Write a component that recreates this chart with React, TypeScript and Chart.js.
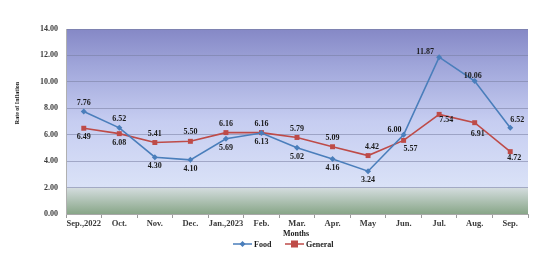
import React, { useEffect, useRef } from 'react';
import { Chart, registerables } from 'chart.js';

Chart.register(...registerables);

const categories = ['Sep.,2022', 'Oct.', 'Nov.', 'Dec.', 'Jan.,2023', 'Feb.', 'Mar.', 'Apr.', 'May', 'Jun.', 'Jul.', 'Aug.', 'Sep.'];
const foodValues = [7.76, 6.52, 4.30, 4.10, 5.69, 6.13, 5.02, 4.16, 3.24, 6.00, 11.87, 10.06, 6.52];
const generalValues = [6.49, 6.08, 5.41, 5.50, 6.16, 6.16, 5.79, 5.09, 4.42, 5.57, 7.54, 6.91, 4.72];
const seriesNames = ['Food', 'General'];
const yMin = 0;
const yMax = 14;
const yStep = 2;

const FOOD_COLOR = '#4a7ebb';
const GENERAL_COLOR = '#be4b48';
const SERIF = '"Liberation Serif", "Times New Roman", serif';

// small label nudges [dx, dy] keyed "dataset:index"
const labelNudge: Record<string, [number, number]> = {
  '0:10': [-14, 4],
  '1:10': [7, -3],
  '0:9': [-9, 4],
  '1:9': [7, 0],
  '0:11': [-2, 4],
  '1:11': [3, 2],
  '0:12': [7, 1],
  '1:12': [4, -3],
  '1:8': [4, 0],
};

const bgPlugin = {
  id: 'bgGradient',
  beforeDraw(chart: any) {
    const { ctx, chartArea: a } = chart;
    const g = ctx.createLinearGradient(0, a.top, 0, a.bottom);
    g.addColorStop(0, '#8588c6');
    g.addColorStop(0.2, '#a0a6da');
    g.addColorStop(0.5, '#c6cdf1');
    g.addColorStop(0.855, '#dae2f7');
    g.addColorStop(0.862, '#d2dbdc');
    g.addColorStop(1, '#88a688');
    ctx.save();
    ctx.fillStyle = g;
    ctx.fillRect(a.left, a.top, a.right - a.left, a.bottom - a.top);
    ctx.restore();
  },
};

const labelsPlugin = {
  id: 'customLabels',
  afterDatasetsDraw(chart: any) {
    const { ctx } = chart;
    const values = [foodValues, generalValues];
    ctx.save();
    ctx.font = `bold 8px ${SERIF}`;
    ctx.fillStyle = '#1a1a1a';
    ctx.textAlign = 'center';
    ctx.textBaseline = 'middle';
    for (let i = 0; i < categories.length; i++) {
      for (let d = 0; d < 2; d++) {
        const v = values[d][i];
        const other = values[1 - d][i];
        const above = d === 0 ? v > other : v >= other;
        const pt = chart.getDatasetMeta(d).data[i];
        const n = labelNudge[`${d}:${i}`] || [0, 0];
        const dy = above ? -9 : 9;
        ctx.fillText(v.toFixed(2), pt.x + n[0], pt.y + dy + n[1]);
      }
    }
    ctx.restore();
  },
};

function drawMarker(ctx: CanvasRenderingContext2D, kind: number, x: number, y: number) {
  if (kind === 0) {
    ctx.fillStyle = FOOD_COLOR;
    ctx.beginPath();
    ctx.moveTo(x, y - 3);
    ctx.lineTo(x + 3, y);
    ctx.lineTo(x, y + 3);
    ctx.lineTo(x - 3, y);
    ctx.closePath();
    ctx.fill();
  } else {
    ctx.fillStyle = GENERAL_COLOR;
    ctx.fillRect(x - 3.5, y - 3.5, 7, 7);
  }
}

const textPlugin = {
  id: 'extraText',
  afterDraw(chart: any) {
    const { ctx } = chart;
    ctx.save();
    ctx.fillStyle = '#1a1a1a';
    // y axis title
    ctx.font = `bold 6px ${SERIF}`;
    ctx.textAlign = 'center';
    ctx.textBaseline = 'middle';
    ctx.save();
    ctx.translate(17, 103);
    ctx.rotate(-Math.PI / 2);
    ctx.fillText('Rate of Inflation', 0, 0);
    ctx.restore();
    // x axis title
    ctx.font = `bold 8px ${SERIF}`;
    ctx.fillText('Months', 296, 234);
    // legend
    const colors = [FOOD_COLOR, GENERAL_COLOR];
    const lx = [233, 285];
    const ly = 244;
    for (let k = 0; k < 2; k++) {
      ctx.strokeStyle = colors[k];
      ctx.lineWidth = 1.5;
      ctx.beginPath();
      ctx.moveTo(lx[k], ly);
      ctx.lineTo(lx[k] + 19, ly);
      ctx.stroke();
      drawMarker(ctx, k, lx[k] + 9.5, ly);
      ctx.fillStyle = '#1a1a1a';
      ctx.textAlign = 'left';
      ctx.fillText(seriesNames[k], lx[k] + 21, ly + 0.5);
    }
    ctx.restore();
  },
};

export default function App() {
  const ref = useRef<HTMLCanvasElement | null>(null);
  useEffect(() => {
    if (!ref.current) return;
    const chart = new Chart(ref.current, {
      type: 'line',
      data: {
        labels: categories,
        datasets: [
          {
            label: seriesNames[0],
            data: foodValues,
            borderColor: FOOD_COLOR,
            backgroundColor: FOOD_COLOR,
            borderWidth: 1.6,
            pointStyle: 'rectRot',
            pointRadius: 3,
            pointBorderWidth: 0,
            tension: 0,
          },
          {
            label: seriesNames[1],
            data: generalValues,
            borderColor: GENERAL_COLOR,
            backgroundColor: GENERAL_COLOR,
            borderWidth: 1.6,
            pointStyle: 'rect',
            pointRadius: 3.5,
            pointBorderWidth: 0,
            tension: 0,
          },
        ],
      },
      options: {
        responsive: false,
        animation: false,
        layout: { padding: { left: 0, right: 5, top: 29, bottom: 0 } },
        plugins: {
          legend: { display: false },
          tooltip: { enabled: false },
          title: { display: false },
        },
        scales: {
          x: {
            type: 'category',
            offset: true,
            grid: {
              offset: true,
              drawOnChartArea: false,
              drawTicks: true,
              tickLength: 4,
              color: '#9a9a9a',
            },
            border: { color: '#a8a8a8' },
            ticks: {
              font: { family: SERIF, size: 8.5, weight: 'bold' },
              color: '#3a3a3a',
              padding: 1,
              maxRotation: 0,
              autoSkip: false,
            },
            afterFit(scale: any) {
              scale.height = 47;
            },
          },
          y: {
            min: yMin,
            max: yMax,
            ticks: {
              stepSize: yStep,
              font: { family: SERIF, size: 8, weight: 'bold' },
              color: '#3a3a3a',
              padding: 8,
              callback: (v: any) => Number(v).toFixed(2),
            },
            grid: {
              drawTicks: false,
              color: 'rgba(120,125,160,0.55)',
              lineWidth: 1,
            },
            border: { color: '#b0b0b0' },
            afterFit(scale: any) {
              scale.width = 66;
            },
          },
        },
      },
      plugins: [bgPlugin, labelsPlugin, textPlugin],
    });
    return () => chart.destroy();
  }, []);
  return (
    <div style={{ position: 'absolute', left: 0, top: 0, width: 533, height: 261, background: '#ffffff' }}>
      <canvas ref={ref} width={533} height={261} />
    </div>
  );
}
